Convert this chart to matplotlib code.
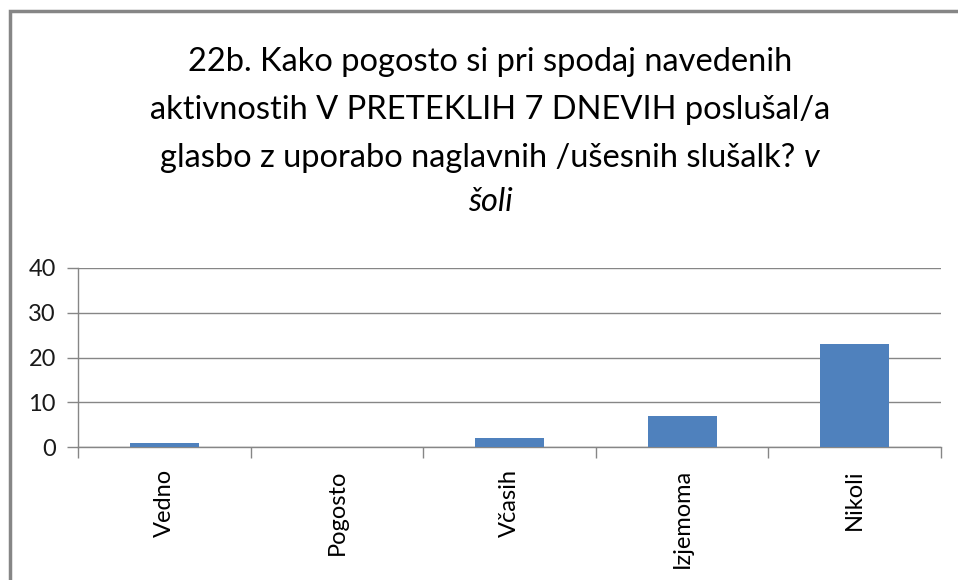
import matplotlib
matplotlib.use("Agg")
import matplotlib.pyplot as plt
from matplotlib.patches import Rectangle
from matplotlib.ticker import FixedLocator, NullFormatter

# Response categories and counts
categories = ["Vedno", "Pogosto", "Včasih", "Izjemoma", "Nikoli"]
counts = [1, 0, 2, 7, 23]
y_ticks = [0, 10, 20, 30, 40]

title_lines = [
    "22b. Kako pogosto si pri spodaj navedenih",
    "aktivnostih V PRETEKLIH 7 DNEVIH poslušal/a",
    "glasbo z uporabo naglavnih /ušesnih slušalk? ",
]
title_italic_tail = "v"
title_last = "šoli"

plt.rcParams["font.family"] = ["Lato", "DejaVu Sans"]

W, H, DPI = 958, 580, 100
fig = plt.figure(figsize=(W / DPI, H / DPI), dpi=DPI)
fig.patch.set_facecolor("white")

grey = "#868686"
bar_color = "#4f81bd"

# Chart-area frame
fig.patches.append(Rectangle((9.5 / W, -0.1), 1.2, 1 - 10.5 / H + 0.1,
                             transform=fig.transFigure, fill=False,
                             edgecolor=grey, linewidth=2.5, zorder=0))

ax = fig.add_axes([78 / W, (H - 447) / H, (941 - 78) / W, (447 - 268) / H])
x = list(range(len(categories)))
ax.bar(x, counts, width=0.4, color=bar_color, zorder=3)

ax.set_xlim(-0.5, len(categories) - 0.5)
ax.set_ylim(0, 40)
ax.set_yticks(y_ticks)
ax.set_yticklabels([str(v) for v in y_ticks], fontsize=17, color="#1a1a1a")
ax.grid(axis="y", color=grey, linewidth=1, zorder=0)

ax.set_xticks(x)
ax.set_xticklabels(categories, rotation=90, fontsize=17, color="black",
                   va="top", ha="center")
ax.tick_params(axis="x", which="major", length=0, pad=16)
ax.xaxis.set_minor_locator(FixedLocator([i - 0.5 for i in range(len(categories) + 1)]))
ax.xaxis.set_minor_formatter(NullFormatter())
ax.tick_params(axis="x", which="minor", length=8, color=grey, width=1)
ax.tick_params(axis="y", length=8, color=grey, width=1, pad=8)

for s in ["top", "right"]:
    ax.spines[s].set_visible(False)
for s in ["left", "bottom"]:
    ax.spines[s].set_color(grey)
    ax.spines[s].set_linewidth(1)

# Title, drawn line by line so the final words can be italic
cx = 490 / W
fs = 23.5
ys = [62, 110, 158]
for line, yy in zip(title_lines[:2], ys[:2]):
    fig.text(cx, 1 - yy / H, line, ha="center", va="center", fontsize=fs, color="black")

renderer = fig.canvas.get_renderer()
t_norm = fig.text(0, 0, title_lines[2], fontsize=fs)
t_ital = fig.text(0, 0, title_italic_tail, fontsize=fs, style="italic")
w1 = t_norm.get_window_extent(renderer).width
w2 = t_ital.get_window_extent(renderer).width
start = cx * W - (w1 + w2) / 2
t_norm.set_position((start / W, 1 - ys[2] / H))
t_norm.set_va("center")
t_ital.set_position(((start + w1) / W, 1 - ys[2] / H))
t_ital.set_va("center")

fig.text(cx, 1 - 202 / H, title_last, ha="center", va="center",
         fontsize=fs, style="italic", color="black")

fig.savefig("out.png", dpi=DPI)
